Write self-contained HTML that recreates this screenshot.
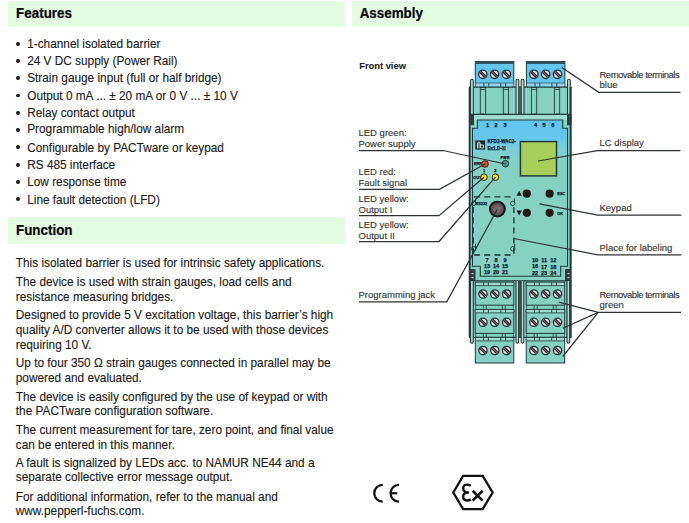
<!DOCTYPE html>
<html><head><meta charset="utf-8"><title>Features / Function / Assembly</title>
<style>
html,body{margin:0;padding:0;background:#fff;}
body{width:689px;height:523px;position:relative;overflow:hidden;font-family:"Liberation Sans",sans-serif;color:#1a1a1a;}
.bar{position:absolute;background:#e3fce2;}
.t{position:absolute;white-space:nowrap;}
.dot{position:absolute;width:3.9px;height:3.9px;border-radius:50%;background:#1a1a1a;}
.dev{position:absolute;left:0;top:0;}
</style></head><body>
<div class="bar" style="left:8px;top:1px;width:337px;height:26.3px"></div><div class="bar" style="left:8px;top:217.4px;width:337px;height:26.4px"></div><div class="bar" style="left:352px;top:1px;width:337px;height:26.3px"></div>
<div class="dot" style="left:16.05px;top:41.65px"></div><div class="dot" style="left:16.05px;top:58.94px"></div><div class="dot" style="left:16.05px;top:76.23px"></div><div class="dot" style="left:16.05px;top:93.52px"></div><div class="dot" style="left:16.05px;top:110.81px"></div><div class="dot" style="left:16.05px;top:128.10px"></div><div class="dot" style="left:16.05px;top:145.39px"></div><div class="dot" style="left:16.05px;top:162.68px"></div><div class="dot" style="left:16.05px;top:179.97px"></div><div class="dot" style="left:16.05px;top:197.26px"></div>
<div class="t" style="left:16.10px;top:7.05px;font-size:13.4px;line-height:13.4px;transform:scaleY(1.05);transform-origin:0 11.35px;-webkit-text-stroke:0.2px #000;font-weight:bold;color:#000;">Features</div>
<div class="t" style="left:16.00px;top:224.05px;font-size:13.4px;line-height:13.4px;transform:scaleY(1.05);transform-origin:0 11.35px;-webkit-text-stroke:0.2px #000;font-weight:bold;color:#000;">Function</div>
<div class="t" style="left:359.70px;top:7.05px;font-size:13.4px;line-height:13.4px;transform:scaleY(1.05);transform-origin:0 11.35px;-webkit-text-stroke:0.2px #000;font-weight:bold;color:#000;">Assembly</div>
<div class="t" style="left:27.20px;top:39.09px;font-size:11.82px;line-height:11.82px;transform:scaleY(1.06);transform-origin:0 10.01px;-webkit-text-stroke:0.12px #1a1a1a;">1-channel isolated barrier</div>
<div class="t" style="left:27.20px;top:56.09px;font-size:11.82px;line-height:11.82px;transform:scaleY(1.06);transform-origin:0 10.01px;-webkit-text-stroke:0.12px #1a1a1a;">24 V DC supply (Power Rail)</div>
<div class="t" style="left:27.20px;top:73.09px;font-size:11.82px;line-height:11.82px;transform:scaleY(1.06);transform-origin:0 10.01px;-webkit-text-stroke:0.12px #1a1a1a;">Strain gauge input (full or half bridge)</div>
<div class="t" style="left:27.20px;top:91.09px;font-size:11.82px;line-height:11.82px;transform:scaleY(1.06);transform-origin:0 10.01px;-webkit-text-stroke:0.12px #1a1a1a;">Output 0 mA ... ± 20 mA or 0 V ... ± 10 V</div>
<div class="t" style="left:27.20px;top:108.09px;font-size:11.82px;line-height:11.82px;transform:scaleY(1.06);transform-origin:0 10.01px;-webkit-text-stroke:0.12px #1a1a1a;">Relay contact output</div>
<div class="t" style="left:27.20px;top:124.09px;font-size:11.82px;line-height:11.82px;transform:scaleY(1.06);transform-origin:0 10.01px;-webkit-text-stroke:0.12px #1a1a1a;">Programmable high/low alarm</div>
<div class="t" style="left:27.20px;top:143.09px;font-size:11.82px;line-height:11.82px;transform:scaleY(1.06);transform-origin:0 10.01px;-webkit-text-stroke:0.12px #1a1a1a;">Configurable by PACTware or keypad</div>
<div class="t" style="left:27.20px;top:160.09px;font-size:11.82px;line-height:11.82px;transform:scaleY(1.06);transform-origin:0 10.01px;-webkit-text-stroke:0.12px #1a1a1a;">RS 485 interface</div>
<div class="t" style="left:27.20px;top:177.09px;font-size:11.82px;line-height:11.82px;transform:scaleY(1.06);transform-origin:0 10.01px;-webkit-text-stroke:0.12px #1a1a1a;">Low response time</div>
<div class="t" style="left:27.20px;top:195.09px;font-size:11.82px;line-height:11.82px;transform:scaleY(1.06);transform-origin:0 10.01px;-webkit-text-stroke:0.12px #1a1a1a;">Line fault detection (LFD)</div>
<div class="t" style="left:15.80px;top:258.09px;font-size:11.82px;line-height:11.82px;transform:scaleY(1.06);transform-origin:0 10.01px;-webkit-text-stroke:0.12px #1a1a1a;">This isolated barrier is used for intrinsic safety applications.</div>
<div class="t" style="left:15.80px;top:277.09px;font-size:11.82px;line-height:11.82px;transform:scaleY(1.06);transform-origin:0 10.01px;-webkit-text-stroke:0.12px #1a1a1a;">The device is used with strain gauges, load cells and</div>
<div class="t" style="left:15.80px;top:292.09px;font-size:11.82px;line-height:11.82px;transform:scaleY(1.06);transform-origin:0 10.01px;-webkit-text-stroke:0.12px #1a1a1a;">resistance measuring bridges.</div>
<div class="t" style="left:15.80px;top:310.09px;font-size:11.82px;line-height:11.82px;transform:scaleY(1.06);transform-origin:0 10.01px;-webkit-text-stroke:0.12px #1a1a1a;">Designed to provide 5 V excitation voltage, this barrier’s high</div>
<div class="t" style="left:15.80px;top:325.09px;font-size:11.82px;line-height:11.82px;transform:scaleY(1.06);transform-origin:0 10.01px;-webkit-text-stroke:0.12px #1a1a1a;">quality A/D converter allows it to be used with those devices</div>
<div class="t" style="left:15.80px;top:340.09px;font-size:11.82px;line-height:11.82px;transform:scaleY(1.06);transform-origin:0 10.01px;-webkit-text-stroke:0.12px #1a1a1a;">requiring 10 V.</div>
<div class="t" style="left:15.80px;top:358.09px;font-size:11.82px;line-height:11.82px;transform:scaleY(1.06);transform-origin:0 10.01px;-webkit-text-stroke:0.12px #1a1a1a;">Up to four 350 Ω strain gauges connected in parallel may be</div>
<div class="t" style="left:15.80px;top:373.09px;font-size:11.82px;line-height:11.82px;transform:scaleY(1.06);transform-origin:0 10.01px;-webkit-text-stroke:0.12px #1a1a1a;">powered and evaluated.</div>
<div class="t" style="left:15.80px;top:392.09px;font-size:11.82px;line-height:11.82px;transform:scaleY(1.06);transform-origin:0 10.01px;-webkit-text-stroke:0.12px #1a1a1a;">The device is easily configured by the use of keypad or with</div>
<div class="t" style="left:15.80px;top:406.09px;font-size:11.82px;line-height:11.82px;transform:scaleY(1.06);transform-origin:0 10.01px;-webkit-text-stroke:0.12px #1a1a1a;">the PACTware configuration software.</div>
<div class="t" style="left:15.80px;top:425.09px;font-size:11.82px;line-height:11.82px;transform:scaleY(1.06);transform-origin:0 10.01px;-webkit-text-stroke:0.12px #1a1a1a;">The current measurement for tare, zero point, and final value</div>
<div class="t" style="left:15.80px;top:440.09px;font-size:11.82px;line-height:11.82px;transform:scaleY(1.06);transform-origin:0 10.01px;-webkit-text-stroke:0.12px #1a1a1a;">can be entered in this manner.</div>
<div class="t" style="left:15.80px;top:458.09px;font-size:11.82px;line-height:11.82px;transform:scaleY(1.06);transform-origin:0 10.01px;-webkit-text-stroke:0.12px #1a1a1a;">A fault is signalized by LEDs acc. to NAMUR NE44 and a</div>
<div class="t" style="left:15.80px;top:472.09px;font-size:11.82px;line-height:11.82px;transform:scaleY(1.06);transform-origin:0 10.01px;-webkit-text-stroke:0.12px #1a1a1a;">separate collective error message output.</div>
<div class="t" style="left:15.80px;top:492.09px;font-size:11.82px;line-height:11.82px;transform:scaleY(1.06);transform-origin:0 10.01px;-webkit-text-stroke:0.12px #1a1a1a;">For additional information, refer to the manual and</div>
<div class="t" style="left:15.80px;top:506.09px;font-size:11.82px;line-height:11.82px;transform:scaleY(1.06);transform-origin:0 10.01px;-webkit-text-stroke:0.12px #1a1a1a;">www.pepperl-fuchs.com.</div>
<div class="t" style="left:359.20px;top:61.78px;font-size:9.35px;line-height:9.35px;transform:scaleY(1.04);transform-origin:0 7.92px;-webkit-text-stroke:0.1px #1c1c28;font-weight:bold;color:#1c1c28;">Front view</div>
<div class="t" style="left:358.50px;top:127.96px;font-size:9.5px;line-height:9.5px;transform:scaleY(1.03);transform-origin:0 8.04px;-webkit-text-stroke:0.12px #333333;color:#333333;">LED green:</div>
<div class="t" style="left:358.50px;top:138.96px;font-size:9.5px;line-height:9.5px;transform:scaleY(1.03);transform-origin:0 8.04px;-webkit-text-stroke:0.12px #333333;color:#333333;">Power supply</div>
<div class="t" style="left:358.50px;top:166.96px;font-size:9.5px;line-height:9.5px;transform:scaleY(1.03);transform-origin:0 8.04px;-webkit-text-stroke:0.12px #333333;color:#333333;">LED red:</div>
<div class="t" style="left:358.50px;top:177.96px;font-size:9.5px;line-height:9.5px;transform:scaleY(1.03);transform-origin:0 8.04px;-webkit-text-stroke:0.12px #333333;color:#333333;">Fault signal</div>
<div class="t" style="left:358.50px;top:193.96px;font-size:9.5px;line-height:9.5px;transform:scaleY(1.03);transform-origin:0 8.04px;-webkit-text-stroke:0.12px #333333;color:#333333;">LED yellow:</div>
<div class="t" style="left:358.50px;top:204.96px;font-size:9.5px;line-height:9.5px;transform:scaleY(1.03);transform-origin:0 8.04px;-webkit-text-stroke:0.12px #333333;color:#333333;">Output I</div>
<div class="t" style="left:358.50px;top:219.96px;font-size:9.5px;line-height:9.5px;transform:scaleY(1.03);transform-origin:0 8.04px;-webkit-text-stroke:0.12px #333333;color:#333333;">LED yellow:</div>
<div class="t" style="left:358.50px;top:230.96px;font-size:9.5px;line-height:9.5px;transform:scaleY(1.03);transform-origin:0 8.04px;-webkit-text-stroke:0.12px #333333;color:#333333;">Output II</div>
<div class="t" style="left:358.50px;top:289.96px;font-size:9.5px;line-height:9.5px;transform:scaleY(1.03);transform-origin:0 8.04px;-webkit-text-stroke:0.12px #333333;color:#333333;">Programming jack</div>
<div class="t" style="left:599.50px;top:69.96px;font-size:9.5px;line-height:9.5px;transform:scaleY(1.03);transform-origin:0 8.04px;-webkit-text-stroke:0.12px #333333;color:#333333;letter-spacing:-0.5px;">Removable terminals</div>
<div class="t" style="left:599.50px;top:80.46px;font-size:9.5px;line-height:9.5px;transform:scaleY(1.03);transform-origin:0 8.04px;-webkit-text-stroke:0.12px #333333;color:#333333;">blue</div>
<div class="t" style="left:599.50px;top:138.46px;font-size:9.5px;line-height:9.5px;transform:scaleY(1.03);transform-origin:0 8.04px;-webkit-text-stroke:0.12px #333333;color:#333333;">LC display</div>
<div class="t" style="left:599.50px;top:202.96px;font-size:9.5px;line-height:9.5px;transform:scaleY(1.03);transform-origin:0 8.04px;-webkit-text-stroke:0.12px #333333;color:#333333;">Keypad</div>
<div class="t" style="left:599.50px;top:242.96px;font-size:9.5px;line-height:9.5px;transform:scaleY(1.03);transform-origin:0 8.04px;-webkit-text-stroke:0.12px #333333;color:#333333;">Place for labeling</div>
<div class="t" style="left:599.50px;top:289.96px;font-size:9.5px;line-height:9.5px;transform:scaleY(1.03);transform-origin:0 8.04px;-webkit-text-stroke:0.12px #333333;color:#333333;letter-spacing:-0.5px;">Removable terminals</div>
<div class="t" style="left:599.50px;top:300.46px;font-size:9.5px;line-height:9.5px;transform:scaleY(1.03);transform-origin:0 8.04px;-webkit-text-stroke:0.12px #333333;color:#333333;">green</div>
<svg class="dev" width="689" height="523" viewBox="0 0 689 523" font-family="Liberation Sans, sans-serif"><rect x="469.2" y="87" width="102.3" height="250.5" fill="#85d2c5" />
<line x1="469" y1="87.1" x2="571.5" y2="87.1" stroke="#1f3b38" stroke-width="1.1"/>
<rect x="475.3" y="61.5" width="38.5" height="25" fill="#62c6ee" stroke="#1f3b38" stroke-width="1" />
<rect x="475.3" y="61.3" width="38.5" height="2.7" fill="#34525a" />
<rect x="475.8" y="83" width="37.5" height="3.5" fill="#8fd3ee" />
<line x1="483.90000000000003" y1="83" x2="483.90000000000003" y2="86.5" stroke="#1f3b38" stroke-width="0.9"/>
<line x1="488.8" y1="83" x2="488.8" y2="86.5" stroke="#1f3b38" stroke-width="0.9"/>
<line x1="500.8" y1="83" x2="500.8" y2="86.5" stroke="#1f3b38" stroke-width="0.9"/>
<line x1="505.7" y1="83" x2="505.7" y2="86.5" stroke="#1f3b38" stroke-width="0.9"/>
<line x1="475.3" y1="83" x2="513.8" y2="83" stroke="#1f3b38" stroke-width="0.6"/>
<circle cx="482.8" cy="74.3" r="4.199999999999999" fill="#e4e0e8" stroke="#1d3538" stroke-width="1.3"/>
<line x1="480.22" y1="71.72" x2="485.38" y2="76.88" stroke="#2a1e22" stroke-width="3.0"/>
<line x1="480.22" y1="71.72" x2="485.38" y2="76.88" stroke="#b86a72" stroke-width="1.0"/>
<circle cx="494.6" cy="74.3" r="4.199999999999999" fill="#e4e0e8" stroke="#1d3538" stroke-width="1.3"/>
<line x1="492.02" y1="71.72" x2="497.18" y2="76.88" stroke="#2a1e22" stroke-width="3.0"/>
<line x1="492.02" y1="71.72" x2="497.18" y2="76.88" stroke="#b86a72" stroke-width="1.0"/>
<circle cx="506.40000000000003" cy="74.3" r="4.199999999999999" fill="#e4e0e8" stroke="#1d3538" stroke-width="1.3"/>
<line x1="503.82" y1="71.72" x2="508.98" y2="76.88" stroke="#2a1e22" stroke-width="3.0"/>
<line x1="503.82" y1="71.72" x2="508.98" y2="76.88" stroke="#b86a72" stroke-width="1.0"/>
<rect x="480.3" y="87.5" width="5.3" height="26.7" fill="#85d2c5" stroke="#1f3b38" stroke-width="0.9" />
<line x1="480.3" y1="89.5" x2="485.8" y2="89.5" stroke="#1f3b38" stroke-width="0.8"/>
<rect x="503.3" y="87.5" width="5.3" height="26.7" fill="#85d2c5" stroke="#1f3b38" stroke-width="0.9" />
<line x1="503.3" y1="89.5" x2="508.8" y2="89.5" stroke="#1f3b38" stroke-width="0.8"/>
<rect x="526.4" y="61.5" width="38.5" height="25" fill="#62c6ee" stroke="#1f3b38" stroke-width="1" />
<rect x="526.4" y="61.3" width="38.5" height="2.7" fill="#34525a" />
<rect x="526.9" y="83" width="37.5" height="3.5" fill="#8fd3ee" />
<line x1="535.0" y1="83" x2="535.0" y2="86.5" stroke="#1f3b38" stroke-width="0.9"/>
<line x1="539.9" y1="83" x2="539.9" y2="86.5" stroke="#1f3b38" stroke-width="0.9"/>
<line x1="551.9" y1="83" x2="551.9" y2="86.5" stroke="#1f3b38" stroke-width="0.9"/>
<line x1="556.8" y1="83" x2="556.8" y2="86.5" stroke="#1f3b38" stroke-width="0.9"/>
<line x1="526.4" y1="83" x2="564.9" y2="83" stroke="#1f3b38" stroke-width="0.6"/>
<circle cx="533.9" cy="74.3" r="4.199999999999999" fill="#e4e0e8" stroke="#1d3538" stroke-width="1.3"/>
<line x1="531.32" y1="71.72" x2="536.48" y2="76.88" stroke="#2a1e22" stroke-width="3.0"/>
<line x1="531.32" y1="71.72" x2="536.48" y2="76.88" stroke="#b86a72" stroke-width="1.0"/>
<circle cx="545.6999999999999" cy="74.3" r="4.199999999999999" fill="#e4e0e8" stroke="#1d3538" stroke-width="1.3"/>
<line x1="543.12" y1="71.72" x2="548.28" y2="76.88" stroke="#2a1e22" stroke-width="3.0"/>
<line x1="543.12" y1="71.72" x2="548.28" y2="76.88" stroke="#b86a72" stroke-width="1.0"/>
<circle cx="557.5" cy="74.3" r="4.199999999999999" fill="#e4e0e8" stroke="#1d3538" stroke-width="1.3"/>
<line x1="554.92" y1="71.72" x2="560.08" y2="76.88" stroke="#2a1e22" stroke-width="3.0"/>
<line x1="554.92" y1="71.72" x2="560.08" y2="76.88" stroke="#b86a72" stroke-width="1.0"/>
<rect x="531.4" y="87.5" width="5.3" height="26.7" fill="#85d2c5" stroke="#1f3b38" stroke-width="0.9" />
<line x1="531.4" y1="89.5" x2="536.9" y2="89.5" stroke="#1f3b38" stroke-width="0.8"/>
<rect x="554.4" y="87.5" width="5.3" height="26.7" fill="#85d2c5" stroke="#1f3b38" stroke-width="0.9" />
<line x1="554.4" y1="89.5" x2="559.9" y2="89.5" stroke="#1f3b38" stroke-width="0.8"/>
<path d="M470.5 114 V80.5 Q470.5 79.3 471.9 79.3 Q473.3 79.3 473.3 80.5 V114" fill="#b6ddd5" stroke="#1f3b38" stroke-width="1.1"/>
<path d="M516 114 V80.5 Q516 79.3 517.4 79.3 Q518.8 79.3 518.8 80.5 V114" fill="#b6ddd5" stroke="#1f3b38" stroke-width="1.1"/>
<path d="M521.2 114 V80.5 Q521.2 79.3 522.6 79.3 Q524.0 79.3 524.0 80.5 V114" fill="#b6ddd5" stroke="#1f3b38" stroke-width="1.1"/>
<path d="M567.5 114 V80.5 Q567.5 79.3 568.9 79.3 Q570.3 79.3 570.3 80.5 V114" fill="#b6ddd5" stroke="#1f3b38" stroke-width="1.1"/>
<rect x="518.8" y="86.5" width="2.4" height="28" fill="#3f5a57" />
<rect x="468.7" y="87" width="1.9" height="250.5" fill="#1f3b38" />
<rect x="569.6" y="87" width="2.0" height="250.5" fill="#1f3b38" />
<line x1="469" y1="114.4" x2="571.5" y2="114.4" stroke="#1f3b38" stroke-width="1.2"/>
<rect x="470.5" y="115" width="99" height="5" fill="#9edbd0" />
<defs><linearGradient id="pg" x1="0" y1="120" x2="0" y2="276" gradientUnits="userSpaceOnUse"><stop offset="0" stop-color="#62c6ee"/><stop offset="0.105" stop-color="#62c6ee"/><stop offset="0.175" stop-color="#7acddb"/><stop offset="0.27" stop-color="#85d2c5"/><stop offset="1" stop-color="#85d2c5"/></linearGradient></defs>
<path d="M477.5 120 H562.7 V128.2 H567.5 V266.3 H560.7 V276.2 H480.3 V266.2 H472.5 V128.2 H477.5 Z" fill="url(#pg)" stroke="#1f3b38" stroke-width="1.1"/>
<rect x="469" y="114.2" width="5" height="11" fill="#2e3d3c" />
<rect x="567" y="114.2" width="4.5" height="11" fill="#2e3d3c" />
<rect x="469" y="269" width="6.5" height="12" fill="#2e3d3c" />
<rect x="565" y="269" width="5.5" height="12" fill="#2e3d3c" />
<rect x="471.5" y="273" width="2" height="1.2" fill="#c9d9d6" />
<rect x="471.5" y="277" width="2" height="1.2" fill="#c9d9d6" />
<rect x="567.5" y="273" width="2" height="1.2" fill="#c9d9d6" />
<rect x="567.5" y="277" width="2" height="1.2" fill="#c9d9d6" />
<text x="487.5" y="126.9" font-size="5.6" font-weight="bold" text-anchor="middle" fill="#101a2c" stroke="#101a2c" stroke-width="0.25">1</text>
<text x="496" y="126.9" font-size="5.6" font-weight="bold" text-anchor="middle" fill="#101a2c" stroke="#101a2c" stroke-width="0.25">2</text>
<text x="505.1" y="126.9" font-size="5.6" font-weight="bold" text-anchor="middle" fill="#101a2c" stroke="#101a2c" stroke-width="0.25">3</text>
<text x="535.5" y="126.9" font-size="5.6" font-weight="bold" text-anchor="middle" fill="#101a2c" stroke="#101a2c" stroke-width="0.25">4</text>
<text x="544.1" y="126.9" font-size="5.6" font-weight="bold" text-anchor="middle" fill="#101a2c" stroke="#101a2c" stroke-width="0.25">5</text>
<text x="552.7" y="126.9" font-size="5.6" font-weight="bold" text-anchor="middle" fill="#101a2c" stroke="#101a2c" stroke-width="0.25">6</text>
<rect x="475.3" y="140.4" width="9.8" height="9.2" fill="#1e2a2a" />
<path d="M477.5 148.5 V143 H480.5 M479 141.5 V148.5 M480.5 143.5 V148 H483.5 V145 H480.5" fill="none" stroke="#cfe8e4" stroke-width="0.9"/>
<text x="487.5" y="143.3" font-size="4.6" font-weight="bold" text-anchor="start" fill="#101a2c" stroke="#101a2c" stroke-width="0.25">KFD2-WAC2-</text>
<text x="487.5" y="150.0" font-size="4.6" font-weight="bold" text-anchor="start" fill="#101a2c" stroke="#101a2c" stroke-width="0.25">Ex1.D-1I</text>
<rect x="520.4" y="141.6" width="36.1" height="34.3" fill="#a7cf5a" stroke="#1f3b38" stroke-width="1.5" />
<text x="505" y="159" font-size="3.8" font-weight="bold" text-anchor="middle" fill="#101a2c" stroke="#101a2c" stroke-width="0.25">PWR</text>
<text x="478" y="165.4" font-size="3.8" font-weight="bold" text-anchor="middle" fill="#101a2c" stroke="#101a2c" stroke-width="0.25">ERR</text>
<text x="477.3" y="178.6" font-size="3.8" font-weight="bold" text-anchor="middle" fill="#101a2c" stroke="#101a2c" stroke-width="0.25">OUT</text>
<text x="484" y="172.1" font-size="3.8" font-weight="bold" text-anchor="middle" fill="#101a2c" stroke="#101a2c" stroke-width="0.25">1</text>
<text x="495.4" y="172.1" font-size="3.8" font-weight="bold" text-anchor="middle" fill="#101a2c" stroke="#101a2c" stroke-width="0.25">2</text>
<circle cx="505.4" cy="163.7" r="3.3" fill="#2aa6a0" stroke="#2e2a20" stroke-width="1.0"/>
<circle cx="485" cy="164" r="3.3" fill="#e8452e" stroke="#2e2a20" stroke-width="1.0"/>
<circle cx="484" cy="177.2" r="3.3" fill="#f2dd2a" stroke="#2e2a20" stroke-width="1.0"/>
<circle cx="495.4" cy="177.2" r="3.3" fill="#f2dd2a" stroke="#2e2a20" stroke-width="1.0"/>
<line x1="474" y1="196.9" x2="513.9" y2="196.9" stroke="#1a3330" stroke-width="1.35" stroke-dasharray="6 4.2"/>
<line x1="513.9" y1="207" x2="513.9" y2="255" stroke="#1a3330" stroke-width="1.35" stroke-dasharray="6 4.2"/>
<line x1="474" y1="255" x2="511" y2="255" stroke="#1a3330" stroke-width="1.35" stroke-dasharray="6 4.2"/>
<line x1="473.2" y1="207" x2="473.2" y2="255" stroke="#1a3330" stroke-width="1.35" stroke-dasharray="6 4.2"/>
<circle cx="473.7" cy="203.4" r="2.2" fill="none" stroke="#1f3b38" stroke-width="0.9"/>
<line x1="475.5" y1="202.4" x2="475.5" y2="198.4" stroke="#1f3b38" stroke-width="0.9"/>
<circle cx="512.7" cy="203.4" r="2.2" fill="none" stroke="#1f3b38" stroke-width="0.9"/>
<line x1="514.5" y1="202.4" x2="514.5" y2="198.4" stroke="#1f3b38" stroke-width="0.9"/>
<circle cx="473.7" cy="248.8" r="2.2" fill="none" stroke="#1f3b38" stroke-width="0.9"/>
<line x1="475.5" y1="247.8" x2="475.5" y2="243.8" stroke="#1f3b38" stroke-width="0.9"/>
<circle cx="512.8" cy="248.8" r="2.2" fill="none" stroke="#1f3b38" stroke-width="0.9"/>
<line x1="514.5999999999999" y1="247.8" x2="514.5999999999999" y2="243.8" stroke="#1f3b38" stroke-width="0.9"/>
<text x="481.4" y="205.2" font-size="3.8" font-weight="bold" text-anchor="middle" fill="#101a2c" stroke="#101a2c" stroke-width="0.25">RS232</text>
<circle cx="497.4" cy="209.1" r="7.4" fill="#57585a" stroke="#161616" stroke-width="2.1"/>
<circle cx="497.4" cy="209.1" r="4.0" fill="#6e6a6c" stroke="#7e4a54" stroke-width="0.8"/>
<circle cx="526.8" cy="193.7" r="4.1" fill="#231818"/>
<circle cx="549.6" cy="193.7" r="4.1" fill="#231818"/>
<circle cx="526.8" cy="212.8" r="4.1" fill="#231818"/>
<circle cx="549.6" cy="212.8" r="4.1" fill="#231818"/>
<path d="M519.2 190.8 L521.8 195.8 L516.6 195.8 Z" fill="#1a1a1a"/>
<path d="M519.2 215.4 L521.8 210.4 L516.6 210.4 Z" fill="#1a1a1a"/>
<text x="561.2" y="195.4" font-size="3.8" font-weight="bold" text-anchor="middle" fill="#101a2c" stroke="#101a2c" stroke-width="0.25">ESC</text>
<text x="560.2" y="214.6" font-size="3.8" font-weight="bold" text-anchor="middle" fill="#101a2c" stroke="#101a2c" stroke-width="0.25">OK</text>
<text x="487" y="262.2" font-size="5.6" font-weight="bold" text-anchor="middle" fill="#101a2c" stroke="#101a2c" stroke-width="0.25">7</text>
<text x="496" y="262.2" font-size="5.6" font-weight="bold" text-anchor="middle" fill="#101a2c" stroke="#101a2c" stroke-width="0.25">8</text>
<text x="505.1" y="262.2" font-size="5.6" font-weight="bold" text-anchor="middle" fill="#101a2c" stroke="#101a2c" stroke-width="0.25">9</text>
<text x="487" y="267.7" font-size="5.6" font-weight="bold" text-anchor="middle" fill="#101a2c" stroke="#101a2c" stroke-width="0.25">13</text>
<text x="496" y="267.7" font-size="5.6" font-weight="bold" text-anchor="middle" fill="#101a2c" stroke="#101a2c" stroke-width="0.25">14</text>
<text x="505.1" y="267.7" font-size="5.6" font-weight="bold" text-anchor="middle" fill="#101a2c" stroke="#101a2c" stroke-width="0.25">15</text>
<text x="487" y="274.1" font-size="5.6" font-weight="bold" text-anchor="middle" fill="#101a2c" stroke="#101a2c" stroke-width="0.25">19</text>
<text x="496" y="274.1" font-size="5.6" font-weight="bold" text-anchor="middle" fill="#101a2c" stroke="#101a2c" stroke-width="0.25">20</text>
<text x="505.1" y="274.1" font-size="5.6" font-weight="bold" text-anchor="middle" fill="#101a2c" stroke="#101a2c" stroke-width="0.25">21</text>
<text x="535" y="262.2" font-size="5.6" font-weight="bold" text-anchor="middle" fill="#101a2c" stroke="#101a2c" stroke-width="0.25">10</text>
<text x="544.1" y="262.2" font-size="5.6" font-weight="bold" text-anchor="middle" fill="#101a2c" stroke="#101a2c" stroke-width="0.25">11</text>
<text x="553.3" y="262.2" font-size="5.6" font-weight="bold" text-anchor="middle" fill="#101a2c" stroke="#101a2c" stroke-width="0.25">12</text>
<text x="535" y="267.6" font-size="5.6" font-weight="bold" text-anchor="middle" fill="#101a2c" stroke="#101a2c" stroke-width="0.25">16</text>
<text x="544.1" y="268.7" font-size="5.6" font-weight="bold" text-anchor="middle" fill="#101a2c" stroke="#101a2c" stroke-width="0.25">17</text>
<text x="553.3" y="268.7" font-size="5.6" font-weight="bold" text-anchor="middle" fill="#101a2c" stroke="#101a2c" stroke-width="0.25">18</text>
<text x="535" y="275.1" font-size="5.6" font-weight="bold" text-anchor="middle" fill="#101a2c" stroke="#101a2c" stroke-width="0.25">22</text>
<text x="544.1" y="275.1" font-size="5.6" font-weight="bold" text-anchor="middle" fill="#101a2c" stroke="#101a2c" stroke-width="0.25">23</text>
<text x="553.3" y="275.1" font-size="5.6" font-weight="bold" text-anchor="middle" fill="#101a2c" stroke="#101a2c" stroke-width="0.25">24</text>
<line x1="469" y1="280.8" x2="571.5" y2="280.8" stroke="#1f3b38" stroke-width="1.1"/>
<rect x="473.4" y="281" width="2.0" height="56.5" fill="#9edbd0" stroke="#1f3b38" stroke-width="0.7" />
<rect x="513.4" y="281" width="2.7" height="56.5" fill="#9edbd0" stroke="#1f3b38" stroke-width="0.7" />
<rect x="523.6" y="281" width="2.7" height="56.5" fill="#9edbd0" stroke="#1f3b38" stroke-width="0.7" />
<rect x="564.6" y="281" width="2.4" height="56.5" fill="#9edbd0" stroke="#1f3b38" stroke-width="0.7" />
<rect x="518.5" y="281" width="2.9" height="56.5" fill="#3f5a57" />
<line x1="469" y1="337.3" x2="571.5" y2="337.3" stroke="#1f3b38" stroke-width="1.0"/>
<path d="M470.5 281 V341.50 Q470.5 343.2 471.90 343.2 Q473.30 343.2 473.30 341.50 V281" fill="#b6ddd5" stroke="#1f3b38" stroke-width="1.1"/>
<path d="M516.0 281 V341.60 Q516.0 343.2 517.30 343.2 Q518.60 343.2 518.60 341.60 V281" fill="#b6ddd5" stroke="#1f3b38" stroke-width="1.1"/>
<path d="M521.2 281 V341.60 Q521.2 343.2 522.50 343.2 Q523.80 343.2 523.80 341.60 V281" fill="#b6ddd5" stroke="#1f3b38" stroke-width="1.1"/>
<path d="M567.0 281 V341.55 Q567.0 343.2 568.35 343.2 Q569.70 343.2 569.70 341.55 V281" fill="#b6ddd5" stroke="#1f3b38" stroke-width="1.1"/>
<rect x="475.3" y="282.2" width="38.5" height="23" fill="#85d2c5" stroke="#1f3b38" stroke-width="1" />
<rect x="475.3" y="282.2" width="38.5" height="3.5" fill="#9edbd0" stroke="#1f3b38" stroke-width="0.8" />
<line x1="483.6" y1="282.2" x2="483.6" y2="285.7" stroke="#1f3b38" stroke-width="0.9"/>
<line x1="488.40000000000003" y1="282.2" x2="488.40000000000003" y2="285.7" stroke="#1f3b38" stroke-width="0.9"/>
<line x1="500.8" y1="282.2" x2="500.8" y2="285.7" stroke="#1f3b38" stroke-width="0.9"/>
<line x1="505.6" y1="282.2" x2="505.6" y2="285.7" stroke="#1f3b38" stroke-width="0.9"/>
<rect x="475.3" y="309.4" width="38.5" height="24" fill="#85d2c5" stroke="#1f3b38" stroke-width="1" />
<rect x="475.3" y="309.4" width="38.5" height="3.5" fill="#9edbd0" stroke="#1f3b38" stroke-width="0.8" />
<line x1="483.6" y1="309.4" x2="483.6" y2="312.9" stroke="#1f3b38" stroke-width="0.9"/>
<line x1="488.40000000000003" y1="309.4" x2="488.40000000000003" y2="312.9" stroke="#1f3b38" stroke-width="0.9"/>
<line x1="500.8" y1="309.4" x2="500.8" y2="312.9" stroke="#1f3b38" stroke-width="0.9"/>
<line x1="505.6" y1="309.4" x2="505.6" y2="312.9" stroke="#1f3b38" stroke-width="0.9"/>
<rect x="475.3" y="337.4" width="38.5" height="25.6" fill="#85d2c5" stroke="#1f3b38" stroke-width="1" />
<rect x="475.3" y="337.4" width="38.5" height="3.5" fill="#9edbd0" stroke="#1f3b38" stroke-width="0.8" />
<line x1="483.6" y1="337.4" x2="483.6" y2="340.9" stroke="#1f3b38" stroke-width="0.9"/>
<line x1="488.40000000000003" y1="337.4" x2="488.40000000000003" y2="340.9" stroke="#1f3b38" stroke-width="0.9"/>
<line x1="500.8" y1="337.4" x2="500.8" y2="340.9" stroke="#1f3b38" stroke-width="0.9"/>
<line x1="505.6" y1="337.4" x2="505.6" y2="340.9" stroke="#1f3b38" stroke-width="0.9"/>
<circle cx="483.0" cy="294.0" r="4.1499999999999995" fill="#e4e0e8" stroke="#1d3538" stroke-width="1.3"/>
<line x1="480.45" y1="291.45" x2="485.55" y2="296.55" stroke="#2a1e22" stroke-width="3.0"/>
<line x1="480.45" y1="291.45" x2="485.55" y2="296.55" stroke="#b86a72" stroke-width="1.0"/>
<circle cx="483.0" cy="322.3" r="4.1499999999999995" fill="#e4e0e8" stroke="#1d3538" stroke-width="1.3"/>
<line x1="480.45" y1="319.75" x2="485.55" y2="324.85" stroke="#2a1e22" stroke-width="3.0"/>
<line x1="480.45" y1="319.75" x2="485.55" y2="324.85" stroke="#b86a72" stroke-width="1.0"/>
<circle cx="483.0" cy="350.5" r="4.1499999999999995" fill="#e4e0e8" stroke="#1d3538" stroke-width="1.3"/>
<line x1="480.45" y1="347.95" x2="485.55" y2="353.05" stroke="#2a1e22" stroke-width="3.0"/>
<line x1="480.45" y1="347.95" x2="485.55" y2="353.05" stroke="#b86a72" stroke-width="1.0"/>
<circle cx="494.8" cy="294.0" r="4.1499999999999995" fill="#e4e0e8" stroke="#1d3538" stroke-width="1.3"/>
<line x1="492.25" y1="291.45" x2="497.35" y2="296.55" stroke="#2a1e22" stroke-width="3.0"/>
<line x1="492.25" y1="291.45" x2="497.35" y2="296.55" stroke="#b86a72" stroke-width="1.0"/>
<circle cx="494.8" cy="322.3" r="4.1499999999999995" fill="#e4e0e8" stroke="#1d3538" stroke-width="1.3"/>
<line x1="492.25" y1="319.75" x2="497.35" y2="324.85" stroke="#2a1e22" stroke-width="3.0"/>
<line x1="492.25" y1="319.75" x2="497.35" y2="324.85" stroke="#b86a72" stroke-width="1.0"/>
<circle cx="494.8" cy="350.5" r="4.1499999999999995" fill="#e4e0e8" stroke="#1d3538" stroke-width="1.3"/>
<line x1="492.25" y1="347.95" x2="497.35" y2="353.05" stroke="#2a1e22" stroke-width="3.0"/>
<line x1="492.25" y1="347.95" x2="497.35" y2="353.05" stroke="#b86a72" stroke-width="1.0"/>
<circle cx="506.6" cy="294.0" r="4.1499999999999995" fill="#e4e0e8" stroke="#1d3538" stroke-width="1.3"/>
<line x1="504.05" y1="291.45" x2="509.15" y2="296.55" stroke="#2a1e22" stroke-width="3.0"/>
<line x1="504.05" y1="291.45" x2="509.15" y2="296.55" stroke="#b86a72" stroke-width="1.0"/>
<circle cx="506.6" cy="322.3" r="4.1499999999999995" fill="#e4e0e8" stroke="#1d3538" stroke-width="1.3"/>
<line x1="504.05" y1="319.75" x2="509.15" y2="324.85" stroke="#2a1e22" stroke-width="3.0"/>
<line x1="504.05" y1="319.75" x2="509.15" y2="324.85" stroke="#b86a72" stroke-width="1.0"/>
<circle cx="506.6" cy="350.5" r="4.1499999999999995" fill="#e4e0e8" stroke="#1d3538" stroke-width="1.3"/>
<line x1="504.05" y1="347.95" x2="509.15" y2="353.05" stroke="#2a1e22" stroke-width="3.0"/>
<line x1="504.05" y1="347.95" x2="509.15" y2="353.05" stroke="#b86a72" stroke-width="1.0"/>
<line x1="483.3" y1="305.2" x2="483.3" y2="309.4" stroke="#1f3b38" stroke-width="0.8"/>
<line x1="483.3" y1="333.4" x2="483.3" y2="337.4" stroke="#1f3b38" stroke-width="0.8"/>
<line x1="486.3" y1="305.2" x2="486.3" y2="309.4" stroke="#1f3b38" stroke-width="0.8"/>
<line x1="486.3" y1="333.4" x2="486.3" y2="337.4" stroke="#1f3b38" stroke-width="0.8"/>
<line x1="502.3" y1="305.2" x2="502.3" y2="309.4" stroke="#1f3b38" stroke-width="0.8"/>
<line x1="502.3" y1="333.4" x2="502.3" y2="337.4" stroke="#1f3b38" stroke-width="0.8"/>
<line x1="505.3" y1="305.2" x2="505.3" y2="309.4" stroke="#1f3b38" stroke-width="0.8"/>
<line x1="505.3" y1="333.4" x2="505.3" y2="337.4" stroke="#1f3b38" stroke-width="0.8"/>
<rect x="526.2" y="282.2" width="38.5" height="23" fill="#85d2c5" stroke="#1f3b38" stroke-width="1" />
<rect x="526.2" y="282.2" width="38.5" height="3.5" fill="#9edbd0" stroke="#1f3b38" stroke-width="0.8" />
<line x1="534.5" y1="282.2" x2="534.5" y2="285.7" stroke="#1f3b38" stroke-width="0.9"/>
<line x1="539.3000000000001" y1="282.2" x2="539.3000000000001" y2="285.7" stroke="#1f3b38" stroke-width="0.9"/>
<line x1="551.7" y1="282.2" x2="551.7" y2="285.7" stroke="#1f3b38" stroke-width="0.9"/>
<line x1="556.5" y1="282.2" x2="556.5" y2="285.7" stroke="#1f3b38" stroke-width="0.9"/>
<rect x="526.2" y="309.4" width="38.5" height="24" fill="#85d2c5" stroke="#1f3b38" stroke-width="1" />
<rect x="526.2" y="309.4" width="38.5" height="3.5" fill="#9edbd0" stroke="#1f3b38" stroke-width="0.8" />
<line x1="534.5" y1="309.4" x2="534.5" y2="312.9" stroke="#1f3b38" stroke-width="0.9"/>
<line x1="539.3000000000001" y1="309.4" x2="539.3000000000001" y2="312.9" stroke="#1f3b38" stroke-width="0.9"/>
<line x1="551.7" y1="309.4" x2="551.7" y2="312.9" stroke="#1f3b38" stroke-width="0.9"/>
<line x1="556.5" y1="309.4" x2="556.5" y2="312.9" stroke="#1f3b38" stroke-width="0.9"/>
<rect x="526.2" y="337.4" width="38.5" height="25.6" fill="#85d2c5" stroke="#1f3b38" stroke-width="1" />
<rect x="526.2" y="337.4" width="38.5" height="3.5" fill="#9edbd0" stroke="#1f3b38" stroke-width="0.8" />
<line x1="534.5" y1="337.4" x2="534.5" y2="340.9" stroke="#1f3b38" stroke-width="0.9"/>
<line x1="539.3000000000001" y1="337.4" x2="539.3000000000001" y2="340.9" stroke="#1f3b38" stroke-width="0.9"/>
<line x1="551.7" y1="337.4" x2="551.7" y2="340.9" stroke="#1f3b38" stroke-width="0.9"/>
<line x1="556.5" y1="337.4" x2="556.5" y2="340.9" stroke="#1f3b38" stroke-width="0.9"/>
<circle cx="533.9000000000001" cy="294.0" r="4.1499999999999995" fill="#e4e0e8" stroke="#1d3538" stroke-width="1.3"/>
<line x1="531.35" y1="291.45" x2="536.45" y2="296.55" stroke="#2a1e22" stroke-width="3.0"/>
<line x1="531.35" y1="291.45" x2="536.45" y2="296.55" stroke="#b86a72" stroke-width="1.0"/>
<circle cx="533.9000000000001" cy="322.3" r="4.1499999999999995" fill="#e4e0e8" stroke="#1d3538" stroke-width="1.3"/>
<line x1="531.35" y1="319.75" x2="536.45" y2="324.85" stroke="#2a1e22" stroke-width="3.0"/>
<line x1="531.35" y1="319.75" x2="536.45" y2="324.85" stroke="#b86a72" stroke-width="1.0"/>
<circle cx="533.9000000000001" cy="350.5" r="4.1499999999999995" fill="#e4e0e8" stroke="#1d3538" stroke-width="1.3"/>
<line x1="531.35" y1="347.95" x2="536.45" y2="353.05" stroke="#2a1e22" stroke-width="3.0"/>
<line x1="531.35" y1="347.95" x2="536.45" y2="353.05" stroke="#b86a72" stroke-width="1.0"/>
<circle cx="545.7" cy="294.0" r="4.1499999999999995" fill="#e4e0e8" stroke="#1d3538" stroke-width="1.3"/>
<line x1="543.15" y1="291.45" x2="548.25" y2="296.55" stroke="#2a1e22" stroke-width="3.0"/>
<line x1="543.15" y1="291.45" x2="548.25" y2="296.55" stroke="#b86a72" stroke-width="1.0"/>
<circle cx="545.7" cy="322.3" r="4.1499999999999995" fill="#e4e0e8" stroke="#1d3538" stroke-width="1.3"/>
<line x1="543.15" y1="319.75" x2="548.25" y2="324.85" stroke="#2a1e22" stroke-width="3.0"/>
<line x1="543.15" y1="319.75" x2="548.25" y2="324.85" stroke="#b86a72" stroke-width="1.0"/>
<circle cx="545.7" cy="350.5" r="4.1499999999999995" fill="#e4e0e8" stroke="#1d3538" stroke-width="1.3"/>
<line x1="543.15" y1="347.95" x2="548.25" y2="353.05" stroke="#2a1e22" stroke-width="3.0"/>
<line x1="543.15" y1="347.95" x2="548.25" y2="353.05" stroke="#b86a72" stroke-width="1.0"/>
<circle cx="557.5000000000001" cy="294.0" r="4.1499999999999995" fill="#e4e0e8" stroke="#1d3538" stroke-width="1.3"/>
<line x1="554.95" y1="291.45" x2="560.05" y2="296.55" stroke="#2a1e22" stroke-width="3.0"/>
<line x1="554.95" y1="291.45" x2="560.05" y2="296.55" stroke="#b86a72" stroke-width="1.0"/>
<circle cx="557.5000000000001" cy="322.3" r="4.1499999999999995" fill="#e4e0e8" stroke="#1d3538" stroke-width="1.3"/>
<line x1="554.95" y1="319.75" x2="560.05" y2="324.85" stroke="#2a1e22" stroke-width="3.0"/>
<line x1="554.95" y1="319.75" x2="560.05" y2="324.85" stroke="#b86a72" stroke-width="1.0"/>
<circle cx="557.5000000000001" cy="350.5" r="4.1499999999999995" fill="#e4e0e8" stroke="#1d3538" stroke-width="1.3"/>
<line x1="554.95" y1="347.95" x2="560.05" y2="353.05" stroke="#2a1e22" stroke-width="3.0"/>
<line x1="554.95" y1="347.95" x2="560.05" y2="353.05" stroke="#b86a72" stroke-width="1.0"/>
<line x1="534.2" y1="305.2" x2="534.2" y2="309.4" stroke="#1f3b38" stroke-width="0.8"/>
<line x1="534.2" y1="333.4" x2="534.2" y2="337.4" stroke="#1f3b38" stroke-width="0.8"/>
<line x1="537.2" y1="305.2" x2="537.2" y2="309.4" stroke="#1f3b38" stroke-width="0.8"/>
<line x1="537.2" y1="333.4" x2="537.2" y2="337.4" stroke="#1f3b38" stroke-width="0.8"/>
<line x1="553.2" y1="305.2" x2="553.2" y2="309.4" stroke="#1f3b38" stroke-width="0.8"/>
<line x1="553.2" y1="333.4" x2="553.2" y2="337.4" stroke="#1f3b38" stroke-width="0.8"/>
<line x1="556.2" y1="305.2" x2="556.2" y2="309.4" stroke="#1f3b38" stroke-width="0.8"/>
<line x1="556.2" y1="333.4" x2="556.2" y2="337.4" stroke="#1f3b38" stroke-width="0.8"/>
<path d="M359 150.5 L443.1 150.5 L505.4 164.0" fill="none" stroke="#2e3333" stroke-width="1.25"/>
<path d="M359 189.3 L439.5 189.3 L485 164" fill="none" stroke="#2e3333" stroke-width="1.25"/>
<path d="M359 215.7 L439 215.7 L484 177.2" fill="none" stroke="#2e3333" stroke-width="1.25"/>
<path d="M359 241.5 L439 241.5 L495.4 177.2" fill="none" stroke="#2e3333" stroke-width="1.25"/>
<path d="M359 301.9 L446.7 301.9 L497.2 209.5" fill="none" stroke="#2e3333" stroke-width="1.25"/>
<path d="M680.4 92.3 L598.8 92.3 L561.8 67.6" fill="none" stroke="#2e3333" stroke-width="1.25"/>
<path d="M680.4 150.7 L597.4 150.7 L538 161" fill="none" stroke="#2e3333" stroke-width="1.25"/>
<path d="M681.4 215 L597.8 215 L539.5 203.8" fill="none" stroke="#2e3333" stroke-width="1.25"/>
<path d="M681.4 254.9 L597.8 254.9 L513.7 238.5" fill="none" stroke="#2e3333" stroke-width="1.25"/>
<path d="M681 312.4 L598.2 312.4 L558.9 302.1" fill="none" stroke="#2e3333" stroke-width="1.25"/>
<path d="M598.2 312.4 L562.8 328.3" fill="none" stroke="#2e3333" stroke-width="1.25"/>
<path d="M598.2 312.4 L562.8 356.5" fill="none" stroke="#2e3333" stroke-width="1.25"/>
<path d="M382.7 484.8 A8.45 8.45 0 0 0 382.7 501.7" fill="none" stroke="#111" stroke-width="2.3"/>
<path d="M399.0 484.8 A8.45 8.45 0 0 0 399.0 501.7" fill="none" stroke="#111" stroke-width="2.3"/>
<line x1="391" y1="493.25" x2="397.3" y2="493.25" stroke="#111" stroke-width="2.2"/>
<path d="M453.3 492.5 L463.1 475.9 L482.7 475.9 L492.6 492.5 L482.7 509.1 L463.1 509.1 Z" fill="none" stroke="#111" stroke-width="2.3" stroke-linejoin="miter"/>
<path d="M470.9 485.8 C469.2 484.5 466 484.3 464.5 485.3 C462.6 486.6 462.8 489.9 464.6 491.3 C465.4 492 466.3 492.4 467.4 492.5 H469 M467.4 492.5 C465.2 492.6 463.3 493.9 463.2 496.4 C463.0 499.3 465.2 500.5 467.3 500.5 C468.7 500.5 469.9 500.2 470.9 499.5" fill="none" stroke="#111" stroke-width="2.4"/>
<path d="M472.6 490.8 L482.6 500.6 M482.6 490.8 L472.6 500.6" fill="none" stroke="#111" stroke-width="2.6"/></svg>
</body></html>
